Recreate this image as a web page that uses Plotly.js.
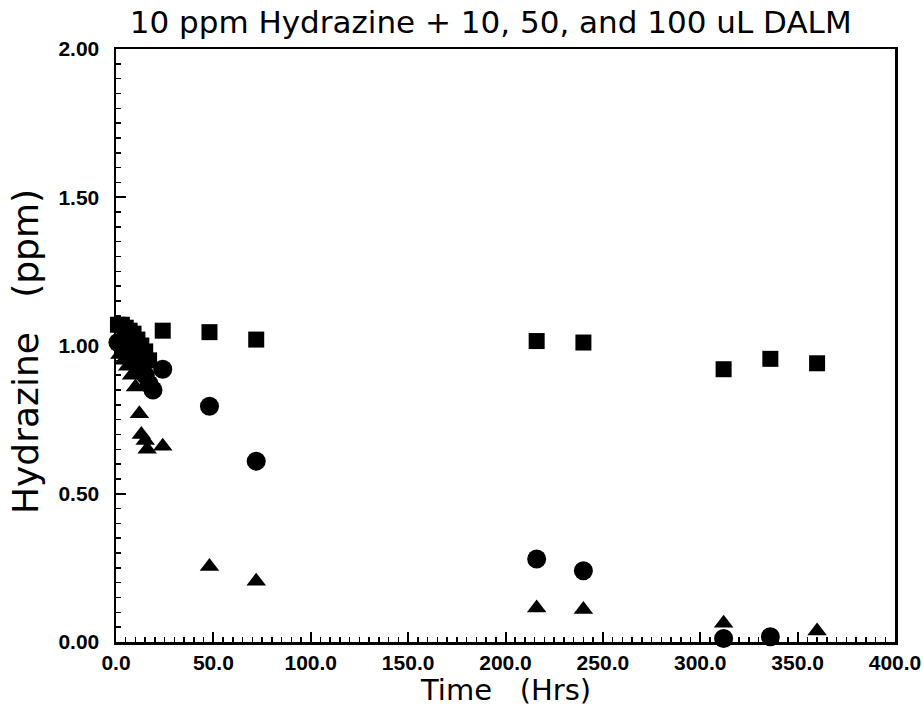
<!DOCTYPE html>
<html>
<head>
<meta charset="utf-8">
<script src="https://cdn.plot.ly/plotly-3.0.1.min.js"></script>
<style>html,body{margin:0;padding:0;background:#fff;}#chart{width:923px;height:710px;}</style>
</head>
<body>
<div id="chart"></div>
<script>
// 100 uL DALM (squares)
const squareTime = [1, 3, 5, 7, 9, 11, 13, 15, 17, 24, 48, 72, 216, 240, 312, 336, 360];
const squareVal  = [1.07, 1.07, 1.06, 1.05, 1.04, 1.02, 1.00, 0.98, 0.95, 1.05, 1.045, 1.02, 1.015, 1.01, 0.92, 0.955, 0.94];
// 50 uL DALM (circles)
const circleTime = [1, 3, 5, 7, 9, 11, 13, 15, 17, 19, 24, 48, 72, 216, 240, 312, 336];
const circleVal  = [1.01, 1.01, 1.00, 0.98, 0.96, 0.94, 0.92, 0.90, 0.87, 0.85, 0.92, 0.795, 0.61, 0.28, 0.24, 0.012, 0.018];
// 10 uL DALM (triangles)
const triTime = [2, 4, 6, 8, 10, 12, 13, 15, 16, 24, 48, 72, 216, 240, 312, 336, 360];
const triVal  = [0.97, 0.95, 0.93, 0.90, 0.86, 0.77, 0.70, 0.68, 0.65, 0.66, 0.255, 0.205, 0.115, 0.11, 0.063, 0.005, 0.037];

const xTickVals = [0, 50, 100, 150, 200, 250, 300, 350, 400];
const yTickVals = [0, 0.5, 1.0, 1.5, 2.0];

const titleText = "10 ppm Hydrazine + 10, 50, and 100 uL DALM";
const xTitle = "Time\u00a0\u00a0\u00a0(Hrs)";
const yTitle = "Hydrazine\u00a0\u00a0\u00a0(ppm)";

const traces = [
  {x: triTime, y: triVal, type: 'scatter', mode: 'markers', cliponaxis: false,
   marker: {symbol: 'triangle-up', size: 17, color: '#000'}},
  {x: circleTime, y: circleVal, type: 'scatter', mode: 'markers', cliponaxis: false,
   marker: {symbol: 'circle', size: 19, color: '#000'}},
  {x: squareTime, y: squareVal, type: 'scatter', mode: 'markers', cliponaxis: false,
   marker: {symbol: 'square', size: 16, color: '#000'}}
];

const tickFont = {family: 'Liberation Sans, Arial, sans-serif', size: 21, color: '#000', weight: 'bold'};

const layout = {
  width: 923, height: 710,
  margin: {l: 116, r: 28, t: 49, b: 68},
  paper_bgcolor: '#fff', plot_bgcolor: '#fff',
  showlegend: false,
  title: {text: titleText, x: 0.481, xref: 'paper', xanchor: 'center', y: 0.969, yref: 'container', yanchor: 'middle',
          font: {family: 'DejaVu Sans, sans-serif', size: 31, color: '#000'}},
  xaxis: {
    range: [0, 400], showgrid: false, zeroline: false,
    showline: true, linecolor: '#000', linewidth: 2.5, mirror: true,
    ticks: 'inside', ticklen: 10, tickwidth: 2, tickcolor: '#000',
    tickvals: xTickVals, tickformat: '.1f', tickfont: tickFont, ticklabelstandoff: 0,
    ticklabeloverflow: 'allow',
    minor: {ticks: 'inside', dtick: 5, ticklen: 5, tickwidth: 1.5, tickcolor: '#000', showgrid: false}
  },
  yaxis: {
    range: [0, 2], showgrid: false, zeroline: false,
    showline: true, linecolor: '#000', linewidth: 2.5, mirror: true,
    ticks: 'inside', ticklen: 10, tickwidth: 2, tickcolor: '#000',
    tickvals: yTickVals, tickformat: '.2f', tickfont: tickFont, ticklabelstandoff: 10,
    ticklabeloverflow: 'allow',
    minor: {ticks: 'inside', dtick: 0.05, ticklen: 5, tickwidth: 1.5, tickcolor: '#000', showgrid: false}
  },
  annotations: [
    {text: xTitle, xref: 'paper', yref: 'paper', x: 0.50, y: -0.081, xanchor: 'center', yanchor: 'middle',
     showarrow: false, font: {family: 'DejaVu Sans, sans-serif', size: 29, color: '#000'}},
    {text: yTitle, xref: 'paper', yref: 'paper', x: -0.116, y: 0.49, xanchor: 'center', yanchor: 'middle',
     textangle: -90, showarrow: false, font: {family: 'DejaVu Sans, sans-serif', size: 36, color: '#000'}}
  ]
};

Plotly.newPlot('chart', traces, layout, {displayModeBar: false, staticPlot: true});
</script>
</body>
</html>
